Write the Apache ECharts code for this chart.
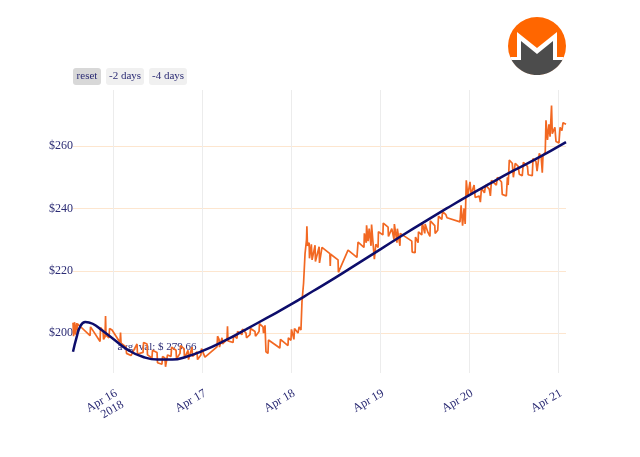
<!DOCTYPE html>
<html>
<head>
<meta charset="utf-8">
<script src="https://cdn.jsdelivr.net/npm/echarts@6/dist/echarts.min.js"></script>
<style>
	html, body { margin: 0; padding: 0; background: #fff; }
	#chart { width: 640px; height: 457px; }
</style>
</head>
<body>
<div id="chart"></div>
<script>
	// hours counted from 2018-04-16 00:00
	const priceHours = [
		-10.8, -10.65, -10.4, -10.1, -9.8, -9.7, -9.6, -6.2, -6.07, -3.5, -3.37, -2.7, -2.56, -2.16, -2.02, -1.89, -1.08, -0.94, -0.27,
		1.89, 2.02, 2.16, 3.5, 3.64, 4.85,
		6.47, 6.6, 8.1, 8.23, 9.17, 9.3, 10.5, 10.65, 11.87, 12.0, 13.2, 13.35, 14.0, 14.16, 14.56, 14.7, 15.64, 15.8, 17.0, 17.13, 18.07, 18.2, 19.15, 19.28, 20.23, 20.36, 21.3, 21.44, 22.65, 22.8, 23.7, 23.87,
		24.8, 28.05, 28.2, 28.6, 28.72, 29.4, 29.53, 30.75, 30.88, 31.0, 32.4, 32.5, 33.44, 33.58, 34.8, 34.9, 35.87, 36.0, 36.95, 37.1, 38.3, 38.43, 39.4, 39.5, 40.45, 40.6, 41.0, 41.26, 41.8, 41.94, 45.0, 45.17, 47.2, 47.3, 48.0, 48.14, 48.8, 48.95, 49.9, 50.2, 50.7, 50.97, 51.4, 51.8, 52.2, 52.3, 52.46,
		52.9, 53.0, 53.5, 53.7, 54.5, 54.6, 55.6, 55.7, 56.37, 58.5, 58.6, 58.7, 60.7, 60.8, 61.2, 63.4, 65.8, 66.1, 67.7, 67.8, 68.3, 68.4, 68.8, 69.1, 69.6, 69.75, 70.1, 70.5, 70.9, 71.5,
		71.6, 72.8, 72.9, 74.2, 74.3, 75.2, 75.8, 75.9, 76.6, 76.7, 77.4, 77.5, 80.6, 80.7, 81.5, 81.6, 82.3, 82.4, 83.3, 83.4, 84.1, 84.2, 84.96, 85.5, 85.6, 86.8, 86.9, 87.6, 87.8, 88.7, 88.9, 89.8, 90.1, 93.6, 93.9, 94.3, 94.7, 95.0, 95.3, 95.7,
		96.3, 96.6, 97.4, 97.7, 98.8, 99.1, 99.4, 100.2, 100.5, 101.5, 101.8, 102.1, 103.4, 103.7, 104.8, 105.0, 106.1, 106.4, 106.6, 106.9, 107.7, 108.0, 108.5, 109.3, 109.6, 110.4, 110.7, 111.8, 112.0, 113.1, 113.3, 114.1, 114.4, 115.0, 115.5, 115.8, 116.0, 116.6, 116.8, 117.2, 117.6, 117.9, 118.3, 118.5, 119.2, 119.5, 120.3, 120.6, 121.1, 121.4, 122.2
	]
	const priceValues = [
		203.3, 199, 203.5, 199.5, 203.2, 201, 203, 199.2, 202, 197.3, 201.8, 200.8, 198, 198.8, 205.5, 199.3, 198.5, 201.5, 201,
		197, 200.2, 196.8, 195.6, 193.5, 192.8,
		196.5, 193.3, 193.8, 197, 196.5, 193, 192, 194.5, 193.8, 190.5, 190, 192.5, 192, 189.2, 189.5, 193, 192.5, 195.5, 194.5, 191.8, 193.5, 196, 195, 192, 194.5, 191.5, 195.5, 192.5, 194, 191.5, 193, 195,
		192.3, 195.6, 199, 198, 195.5, 198.5, 196.5, 198, 202.2, 197.5, 197, 199.3, 198.3, 200.5, 199.5, 201.3, 200, 198.5, 199.5, 201.5, 200.5, 199, 200.5, 203, 202, 200, 202.5, 194, 193.5, 197.8, 195.2, 198, 196, 198.5, 197.7, 201.2, 198, 201.5, 200, 202, 201, 210, 216, 225.5, 230, 234.3, 228,
		229, 224, 228.5, 223.5, 228.2, 223, 227.7, 222.5, 227.5, 225.5, 221.5, 225.3, 223.5, 219.5, 219.2, 226.6, 224.3, 229.2, 227.5, 232, 229, 234.6, 229.5, 233.5, 228, 234.8, 229.5, 223.7, 228.5, 227.5,
		232.5, 231.5, 235.3, 234, 231, 233.5, 230, 235, 229, 233.5, 228, 232, 229.5, 226, 225.8, 230.8, 229, 232.5, 231.5, 235.5, 232, 235, 232.3, 231, 236, 234.5, 232, 233, 237.5, 236.5, 239, 238, 237, 235.7, 241, 234.5, 240, 235, 249, 244,
		248.5, 244.5, 247.5, 243.5, 244, 242, 246.5, 245, 247.5, 246.2, 244, 249, 247.5, 250, 248.5, 244.5, 244, 250, 247.5, 255.5, 254.5, 250, 254.5, 253.5, 251, 250.5, 254.8, 253.5, 250.8, 250.5, 256, 255, 252, 257.7, 256.5, 251.5, 257, 258, 268.3, 262, 267, 263, 273, 264, 266, 261.5, 261, 266, 265, 267.5, 267
	]
	// fitted trend
	const fitHours = [-10.8, -9.8, -8.9, -7.5, -5.5, -3, 0, 4, 8, 12, 16, 20, 24, 30, 36, 42, 48, 54, 60, 66, 72, 78, 84, 90, 96, 102, 108, 114, 122.2]
	const fitValues = [194, 198.8, 202, 203.6, 203, 200.9, 198.2, 194.6, 192.4, 191.5, 191.5, 192.5, 194.2, 197.5, 201.3, 205.2, 209.2, 213.5, 217.8, 222.3, 226.8, 231.3, 235.7, 240, 244.2, 248.2, 252.1, 255.8, 261.3]

	const dayLabels = ['Apr 16\n2018', 'Apr 17', 'Apr 18', 'Apr 19', 'Apr 20', 'Apr 21']
	const buttons = ['reset', '-2 days', '-4 days']
	const avgText = 'avg. val: $ 279.66'

	const HOUR = 3600 * 1000
	const DAY = 24 * HOUR
	const base = new Date(2018, 3, 16).getTime()
	const toTime = h => base + h * HOUR

	const navy = '#2b2b74'
	const serif = 'Liberation Serif, Times New Roman, serif'

	const chart = echarts.init(document.getElementById('chart'))

	const buttonEls = []
	let bx = 73
	buttons.forEach((b, i) => {
		const w = i === 0 ? 28 : 38
		buttonEls.push({
			type: 'rect', x: bx, y: 68, shape: { width: w, height: 17, r: 3 },
			style: { fill: i === 0 ? '#d8d8d8' : '#f0f0f0' }
		})
		buttonEls.push({
			type: 'text', x: bx + w / 2, y: 76.5,
			style: { text: b, fill: navy, font: '11px ' + serif, textAlign: 'center', textVerticalAlign: 'middle' }
		})
		bx += w + 5
	})

	// logo shapes: an "M" edge over the lower part of a circle
	const logoR = 29
	const logoShape = (chordY, legX, topY, notchY) => {
		const cx = Math.sqrt(logoR * logoR - chordY * chordY)
		const pts = [[-cx, chordY], [-legX, chordY], [-legX, topY], [0, notchY], [legX, topY], [legX, chordY], [cx, chordY]]
		const a0 = Math.asin(chordY / logoR)
		const a1 = Math.PI - a0
		for (let k = 1; k < 24; k++) {
			const a = a0 + (a1 - a0) * k / 24
			pts.push([logoR * Math.cos(a), logoR * Math.sin(a)])
		}
		return pts
	}

	const option = {
		animation: false,
		backgroundColor: '#fff',
		grid: { left: 73, right: 74, top: 90, bottom: 84 },
		xAxis: {
			type: 'time',
			min: toTime(-10.8),
			max: toTime(122.2),
			minInterval: DAY,
			maxInterval: DAY,
			axisLine: { show: false },
			axisTick: { show: false },
			splitLine: { show: true, showMinLine: false, showMaxLine: false, lineStyle: { color: '#ececec', width: 1 } },
			axisLabel: {
				rotate: 30,
				margin: 14,
				verticalAlign: 'top',
				showMinLabel: false,
				showMaxLabel: false,
				color: navy,
				fontFamily: serif,
				fontSize: 12,
				lineHeight: 13,
				formatter: function (value) {
					const idx = Math.round((value - base) / DAY)
					return dayLabels[idx] || ''
				}
			}
		},
		yAxis: {
			type: 'value',
			min: 187.2,
			max: 278,
			axisLine: { show: false },
			axisTick: { show: false },
			splitLine: { show: true, showMinLine: false, showMaxLine: false, lineStyle: { color: '#fde6cf', width: 1 } },
			axisLabel: {
				showMinLabel: false,
				showMaxLabel: false,
				margin: 0,
				color: navy,
				fontFamily: serif,
				fontSize: 12,
				formatter: v => '$' + v
			}
		},
		graphic: [
			...buttonEls,
			{
				type: 'text', x: 157, y: 347, z: 1,
				style: { text: avgText, fill: navy, font: '11px ' + serif, textAlign: 'center', textVerticalAlign: 'middle' }
			},
			{
				type: 'group', x: 537, y: 46,
				children: [
					{ type: 'circle', shape: { cx: 0, cy: 0, r: logoR }, style: { fill: '#ff6600' } },
					{ type: 'polygon', shape: { points: logoShape(11, 20, -14, 2) }, style: { fill: '#ffffff' } },
					{ type: 'polygon', shape: { points: logoShape(14, 16, -5, 8) }, style: { fill: '#4c4c4c' } }
				]
			}
		],
		series: [
			{
				name: 'price',
				type: 'line',
				showSymbol: false,
				z: 2,
				lineStyle: { color: '#f26822', width: 1.7 },
				data: priceHours.map((h, i) => [toTime(h), priceValues[i]])
			},
			{
				name: 'trend',
				type: 'line',
				showSymbol: false,
				smooth: 0.5,
				z: 3,
				lineStyle: { color: '#0d0d6b', width: 2.5 },
				data: fitHours.map((h, i) => [toTime(h), fitValues[i]])
			}
		]
	}
	chart.setOption(option)
</script>
</body>
</html>
